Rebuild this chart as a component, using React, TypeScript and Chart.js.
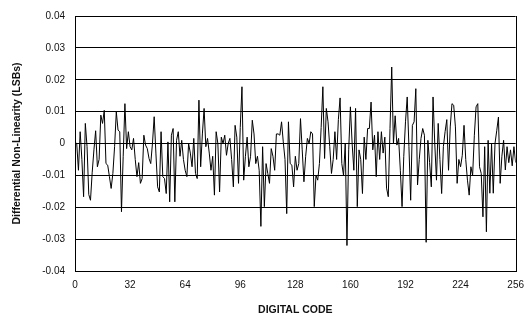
import React, { useEffect, useRef } from "react";
import { Chart, registerables } from "chart.js";

Chart.register(...registerables);

// Differential non-linearity per digital code (0..256)
const dnl: number[] = [
  0.0005, 0.0, -0.0084, 0.0037, -0.005, -0.0167, 0.0063, -0.001,
  -0.016, -0.0178, -0.009, -0.002, 0.004, -0.0073, -0.005, 0.0089,
  0.0063, 0.0104, -0.0063, -0.0068, -0.0104, -0.0141, -0.0094, -0.001,
  0.0099, 0.0042, 0.0037, -0.0214, -0.004, 0.0125, -0.0016, 0.0037,
  -0.001, -0.002, 0.0016, -0.005, -0.0104, -0.006, -0.0125, -0.011,
  0.0026, -0.0005, -0.0016, -0.0047, -0.0063, 0.0, 0.0084, -0.003,
  -0.0136, -0.0152, 0.0037, -0.0104, -0.011, -0.0157, 0.0005, -0.0183,
  0.0026, 0.0047, -0.0183, 0.001, 0.0037, -0.004, 0.001, -0.005,
  -0.0084, -0.0104, 0.0, -0.003, -0.0073, 0.0016, -0.0094, -0.011,
  0.0136, -0.0073, 0.003, 0.011, -0.001, 0.0016, -0.003, -0.0084,
  -0.004, -0.0162, 0.0037, 0.0, -0.0152, 0.002, 0.0, 0.0026,
  -0.0037, 0.0, 0.0016, -0.005, -0.0136, 0.0057, 0.002, -0.0125,
  0.005, 0.0178, -0.0115, -0.004, 0.002, -0.0073, -0.004, 0.0073,
  0.003, -0.0063, -0.004, -0.0084, -0.026, -0.001, -0.0198, -0.0063,
  -0.0094, -0.0125, -0.0016, -0.004, -0.0084, 0.003, 0.003, 0.0026,
  0.0068, 0.0005, -0.005, -0.022, 0.0068, -0.0063, -0.0068, -0.0136,
  -0.004, -0.0084, -0.0063, 0.0078, -0.002, -0.012, -0.004, 0.0016,
  0.0, 0.0037, 0.003, -0.0198, -0.01, -0.0115, -0.0063, 0.005,
  0.0178, -0.0047, 0.011, 0.0068, -0.001, -0.0094, -0.005, 0.0037,
  -0.005, 0.0075, 0.0143, -0.0063, -0.01, 0.0, -0.032, -0.002,
  0.0115, 0.0, -0.0084, 0.011, -0.0198, -0.002, -0.005, -0.0157,
  0.002, -0.005, 0.0047, 0.0047, 0.013, -0.002, 0.0026, -0.0104,
  0.0037, -0.005, 0.0037, -0.003, 0.002, -0.014, -0.0167, 0.0047,
  0.024, 0.0, 0.0087, -0.0005, 0.0016, -0.0084, -0.0198, -0.004,
  0.0068, 0.0146, -0.001, -0.0178, 0.0057, 0.0068, 0.0172, -0.013,
  -0.005, 0.0016, 0.0047, 0.0026, -0.031, 0.001, -0.006, -0.0136,
  0.0146, 0.0, -0.0115, 0.0063, -0.005, -0.0157, -0.001, 0.0037,
  0.0075, -0.0084, 0.0052, 0.0125, 0.012, 0.0052, -0.0125, -0.005,
  -0.0073, -0.0037, 0.0057, -0.005, -0.0115, -0.0162, -0.0073, -0.01,
  0.0026, 0.0115, 0.0125, -0.0073, -0.0094, -0.023, -0.001, -0.0277,
  0.001, -0.0156, 0.0, -0.0156, 0.0, 0.004, 0.0083, -0.0125,
  -0.004, 0.001, -0.0083, -0.001, -0.006, -0.002, -0.007, -0.001,
  -0.006,
];

const codes: number[] = dnl.map((_, i) => i);

const xTicks: number[] = [0, 32, 64, 96, 128, 160, 192, 224, 256];
const yTicks: number[] = [-0.04, -0.03, -0.02, -0.01, 0, 0.01, 0.02, 0.03, 0.04];

const xTitle = "DIGITAL CODE";
const yTitle = "Differential Non-Linearity (LSBs)";

const FONT = "'Liberation Sans', Arial, sans-serif";

const boxPlugin = {
  id: "boxBorder",
  afterDraw(chart: any) {
    const { ctx, chartArea } = chart;
    ctx.save();
    ctx.strokeStyle = "#000";
    ctx.lineWidth = 1;
    ctx.beginPath();
    const x = Math.round(chartArea.right) + 0.5;
    ctx.moveTo(x, Math.round(chartArea.top));
    ctx.lineTo(x, Math.round(chartArea.bottom) + 1);
    ctx.stroke();
    ctx.restore();
  },
};

export default function App() {
  const ref = useRef<HTMLCanvasElement | null>(null);

  useEffect(() => {
    if (!ref.current) return;
    const chart = new Chart(ref.current, {
      type: "line",
      data: {
        datasets: [
          {
            data: codes.map((c, i) => ({ x: c, y: dnl[i] })),
            borderColor: "#000",
            borderWidth: 1,
            pointRadius: 0,
            tension: 0,
            fill: false,
          },
        ],
      },
      options: {
        responsive: false,
        animation: false,
        events: [],
        layout: { padding: { top: 15, right: 13, left: 0, bottom: 0 } },
        plugins: {
          legend: { display: false },
          tooltip: { enabled: false },
        },
        scales: {
          x: {
            type: "linear",
            min: 0,
            max: 256,
            afterBuildTicks: (scale: any) => {
              scale.ticks = xTicks.map((v) => ({ value: v }));
            },
            afterFit: (scale: any) => {
              scale.height = 47;
            },
            ticks: {
              color: "#111",
              font: { family: FONT, size: 10 },
              padding: 8,
              maxRotation: 0,
              autoSkip: false,
              callback: (v: any) => String(v),
            },
            grid: { display: false, drawTicks: false },
            border: { display: true, color: "#000", width: 1 },
            title: {
              display: true,
              text: xTitle,
              color: "#111",
              font: { family: FONT, size: 10.5, weight: "bold" },
              padding: { top: 0, bottom: 2 },
            },
          },
          y: {
            type: "linear",
            min: -0.04,
            max: 0.04,
            afterBuildTicks: (scale: any) => {
              scale.ticks = yTicks.map((v) => ({ value: v }));
            },
            afterFit: (scale: any) => {
              scale.width = 75;
            },
            ticks: {
              color: "#111",
              font: { family: FONT, size: 10 },
              padding: 10,
              autoSkip: false,
              callback: (v: any) => {
                const n = Number(Number(v).toFixed(2));
                return n === 0 ? "0" : String(n);
              },
            },
            grid: { display: true, color: "#000", lineWidth: 1, drawTicks: false },
            border: { display: true, color: "#000", width: 1 },
            title: {
              display: true,
              text: yTitle,
              color: "#111",
              font: { family: FONT, size: 10.5, weight: "bold" },
              padding: { top: 11, bottom: 0 },
            },
          },
        },
      },
      plugins: [boxPlugin],
    });
    return () => chart.destroy();
  }, []);

  return (
    <div style={{ position: "fixed", left: 0, top: 0, width: 532, height: 318, background: "#fff" }}>
      <canvas ref={ref} width={532} height={318} style={{ display: "block" }} />
    </div>
  );
}
